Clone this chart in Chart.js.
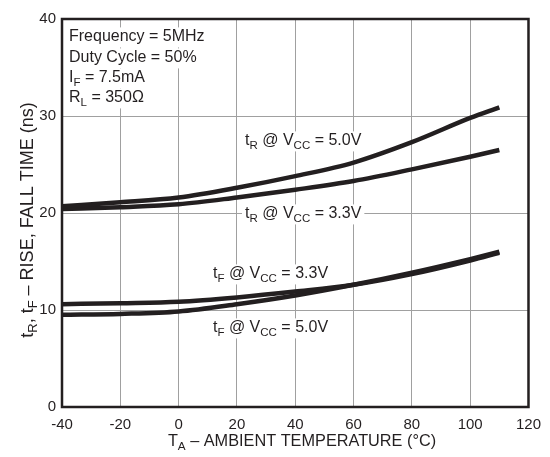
<!DOCTYPE html>
<html>
<head>
<meta charset="utf-8">
<script src="https://cdn.jsdelivr.net/npm/chart.js@4"></script>
<style>
html,body{margin:0;padding:0;background:#fff;}
#wrap{width:550px;height:457px;position:relative;}
</style>
</head>
<body>
<div id="wrap"><canvas id="c"></canvas></div>
<script>
const temps = [-40, -20, 0, 20, 40, 60, 80, 100, 110];
const tR50 = [20.7, 21.1, 21.6, 22.6, 23.8, 25.2, 27.3, 29.8, 30.9];
const tR33 = [20.4, 20.6, 20.9, 21.6, 22.4, 23.3, 24.5, 25.8, 26.5];
const tF33 = [10.6, 10.7, 10.85, 11.3, 11.9, 12.6, 13.7, 15.1, 15.9];
const tF50 = [9.5, 9.6, 9.85, 10.6, 11.5, 12.6, 13.85, 15.25, 16.0];
const xTicks = [-40, -20, 0, 20, 40, 60, 80, 100, 120];
const yTicks = [0, 10, 20, 30, 40];

const FONT = '"Liberation Sans", Arial, Helvetica, sans-serif';
const INK = '#231f20';

function pts(ys){ return temps.map((t,i)=>({x:t,y:ys[i]})); }

function drawRich(ctx, segs, x, y, size, align, bg, rot){
  ctx.save();
  let w = 0;
  segs.forEach(s=>{ ctx.font = (s.sub ? size*0.72 : size) + 'px ' + FONT; s.w = ctx.measureText(s.t).width; w += s.w; });
  if (rot) { ctx.translate(x, y); ctx.rotate(rot); x = 0; y = 0; }
  let x0 = align === 'center' ? x - w/2 : x;
  if (bg) { ctx.fillStyle = '#fff'; ctx.fillRect(x0-3, y - size*0.85, w+6, size*1.25); }
  ctx.fillStyle = INK; ctx.textBaseline = 'alphabetic'; ctx.textAlign = 'left';
  segs.forEach(s=>{ ctx.font = (s.sub ? size*0.72 : size) + 'px ' + FONT; ctx.fillText(s.t, x0, y + (s.sub ? size*0.22 : 0)); x0 += s.w; });
  ctx.restore();
}

const annot = {
  id:'annot',
  afterDatasetsDraw(chart){
    const ctx = chart.ctx;
    const S = 16;
    drawRich(ctx,[{t:'Frequency = 5MHz'}],69,41,S,'left',true);
    drawRich(ctx,[{t:'Duty Cycle = 50%'}],69,62,S,'left',true);
    drawRich(ctx,[{t:'I'},{t:'F',sub:true},{t:' = 7.5mA'}],69,82,S,'left',true);
    drawRich(ctx,[{t:'R'},{t:'L',sub:true},{t:' = 350Ω'}],69,102,S,'left',true);
    drawRich(ctx,[{t:'t'},{t:'R',sub:true},{t:' @ V'},{t:'CC',sub:true},{t:' = 5.0V'}],245,145,S,'left',true);
    drawRich(ctx,[{t:'t'},{t:'R',sub:true},{t:' @ V'},{t:'CC',sub:true},{t:' = 3.3V'}],245,218,S,'left',true);
    drawRich(ctx,[{t:'t'},{t:'F',sub:true},{t:' @ V'},{t:'CC',sub:true},{t:' = 3.3V'}],213,278,S,'left',true);
    drawRich(ctx,[{t:'t'},{t:'F',sub:true},{t:' @ V'},{t:'CC',sub:true},{t:' = 5.0V'}],213,332,S,'left',true);
    // axis titles
    drawRich(ctx,[{t:'T'},{t:'A',sub:true},{t:' – AMBIENT TEMPERATURE (°C)'}],302,446,16.3,'center',false);
    drawRich(ctx,[{t:'t'},{t:'R',sub:true},{t:', t'},{t:'F',sub:true},{t:' – RISE, FALL TIME (ns)'}],33,220,18,'center',false,-Math.PI/2);
    // frame
    const a = chart.chartArea;
    ctx.save();
    ctx.strokeStyle = INK; ctx.lineWidth = 2.5;
    ctx.strokeRect(a.left, a.top, a.right-a.left, a.bottom-a.top);
    ctx.restore();
  }
};

const ds = (data)=>({data:pts(data), borderColor:INK, borderWidth:4.5, pointRadius:0, tension:0.4, cubicInterpolationMode:'monotone', fill:false});

new Chart(document.getElementById('c'),{
  type:'line',
  data:{datasets:[ds(tR50),ds(tR33),ds(tF33),ds(tF50)]},
  options:{
    responsive:true, maintainAspectRatio:false, animation:false, devicePixelRatio:1,
    layout:{padding:{top:19,right:18,left:0,bottom:0}},
    plugins:{legend:{display:false},tooltip:{enabled:false}},
    scales:{
      x:{type:'linear',min:-40,max:120,
        afterBuildTicks(s){ s.ticks = xTicks.map(v=>({value:v})); },
        afterFit(s){ s.height = 50; },
        grid:{color:'#a0a0a0',lineWidth:1,drawTicks:false},
        border:{display:false},
        ticks:{padding:9,color:INK,font:{family:FONT,size:15},maxRotation:0}},
      y:{type:'linear',min:0,max:40,
        afterBuildTicks(s){ s.ticks = yTicks.map(v=>({value:v})); },
        afterFit(s){ s.width = 62; },
        grid:{color:'#a0a0a0',lineWidth:1,drawTicks:false},
        border:{display:false},
        ticks:{padding:6,color:INK,font:{family:FONT,size:15}}}
    }
  },
  plugins:[annot]
});
</script>
</body>
</html>
